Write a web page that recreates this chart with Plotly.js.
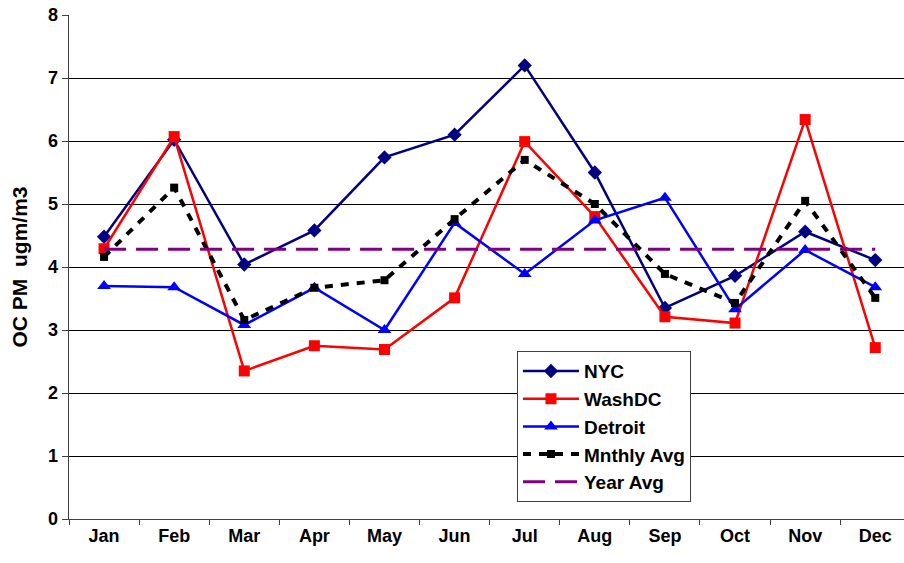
<!DOCTYPE html>
<html>
<head>
<meta charset="utf-8">
<script src="https://cdn.plot.ly/plotly-3.0.1.min.js"></script>
<style>
html,body{margin:0;padding:0;background:#fff;}
#chart{width:904px;height:563px;}
</style>
</head>
<body>
<div id="chart"></div>
<script>
const months = ["Jan","Feb","Mar","Apr","May","Jun","Jul","Aug","Sep","Oct","Nov","Dec"];
const nyc     = [4.48, 6.02, 4.04, 4.58, 5.74, 6.10, 7.20, 5.50, 3.35, 3.86, 4.56, 4.11];
const washdc  = [4.29, 6.07, 2.35, 2.75, 2.69, 3.51, 5.99, 4.80, 3.21, 3.11, 6.34, 2.72];
const detroit = [3.70, 3.68, 3.08, 3.67, 3.00, 4.70, 3.89, 4.74, 5.10, 3.33, 4.27, 3.68];
const mnthlyAvg = [4.16, 5.26, 3.16, 3.67, 3.79, 4.76, 5.70, 5.00, 3.89, 3.43, 5.05, 3.51];
const yearAvg = [4.28, 4.28, 4.28, 4.28, 4.28, 4.28, 4.28, 4.28, 4.28, 4.28, 4.28, 4.28];

const FONT = "Liberation Sans, Arial, sans-serif";
const traces = [
  {x: months, y: nyc, name: "NYC", mode: "lines+markers",
   line: {color: "#000080", width: 2.5}, marker: {symbol: "diamond", size: 11, color: "#000080"}},
  {x: months, y: washdc, name: "WashDC", mode: "lines+markers",
   line: {color: "#FF0000", width: 2.5}, marker: {symbol: "square", size: 11, color: "#FF0000"}},
  {x: months, y: detroit, name: "Detroit", mode: "lines+markers",
   line: {color: "#0000FF", width: 2.5}, marker: {symbol: "triangle-up", size: 12, color: "#0000FF"}},
  {x: months, y: mnthlyAvg, name: "Mnthly Avg", mode: "lines+markers",
   line: {color: "#000000", width: 4, dash: "8px,8px"}, marker: {symbol: "square", size: 8, color: "#000000"}},
  {x: months, y: yearAvg, name: "Year Avg", mode: "lines",
   line: {color: "#800080", width: 3, dash: "22px,10px"}}
];

const layout = {
  width: 904, height: 563,
  paper_bgcolor: "#ffffff", plot_bgcolor: "#ffffff",
  margin: {l: 69, r: 0, t: 15, b: 44, pad: 0},
  font: {family: FONT, size: 18, color: "#000000", weight: "bold"},
  showlegend: true,
  legend: {
    x: 0.5365, y: 0.333, xanchor: "left", yanchor: "top",
    bgcolor: "#ffffff", bordercolor: "#404040", borderwidth: 1,
    font: {family: FONT, size: 19, color: "#000000", weight: "bold"},
    itemwidth: 56,
    tracegroupgap: 0
  },
  xaxis: {
    type: "category", range: [-0.5, 11.41],
    tickson: "boundaries", ticks: "outside", ticklen: 5, tickcolor: "#404040",
    showline: true, linecolor: "#404040", linewidth: 1,
    showgrid: false, zeroline: false,
    tickfont: {family: FONT, size: 18, weight: "bold"}
  },
  yaxis: {
    range: [0, 8], dtick: 1, tick0: 0,
    ticks: "outside", ticklen: 6, tickcolor: "#404040",
    showline: true, linecolor: "#404040", linewidth: 1.5,
    showgrid: true, gridcolor: "#000000", gridwidth: 1,
    zeroline: false,
    tickfont: {family: FONT, size: 18, weight: "bold"},
    title: {text: "OC PM  ugm/m3", font: {family: FONT, size: 21, weight: "bold"}, standoff: 14}
  }
};

Plotly.newPlot("chart", traces, layout, {displayModeBar: false, staticPlot: true});
</script>
</body>
</html>
